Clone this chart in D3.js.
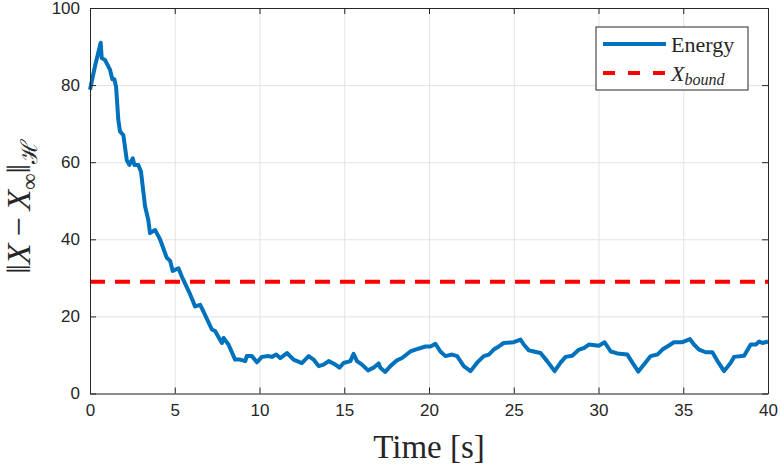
<!DOCTYPE html>
<html>
<head>
<meta charset="utf-8">
<script src="https://cdn.jsdelivr.net/npm/d3@7"></script>
<style>
  body { margin: 0; background: #fff; }
  svg { display: block; }
  .tick text { font-family: "Liberation Sans", Arial, sans-serif; font-size: 17px; fill: #262626; }
  .serif { font-family: "Liberation Serif", "DejaVu Serif", serif; fill: #262626; }
</style>
</head>
<body>
<svg width="780" height="467"></svg>
<script>
const time = [0, 0.3, 0.63, 0.69, 0.89, 1.18, 1.32, 1.44, 1.54, 1.67, 1.77, 1.97, 2.17, 2.32, 2.52, 2.62, 2.85, 3.01, 3.25, 3.44,
  3.54, 3.84, 3.94, 4.13, 4.53, 4.73, 4.88, 5.22, 5.41, 5.91, 6.2, 6.5, 6.69, 7.19, 7.38, 7.78, 7.88, 8.17, 8.56, 8.86,
  9.16, 9.25, 9.55, 9.85, 10.14, 10.53, 10.73, 10.99, 11.22, 11.62, 12.01, 12.5, 12.9, 13.19, 13.49, 13.78, 14.08, 14.47, 14.72, 14.96,
  15.36, 15.55, 15.75, 16.05, 16.4, 16.73, 17.03, 17.13, 17.42, 17.72, 18.11, 18.41, 18.9, 19.2, 19.79, 20.08, 20.38, 20.67, 20.97, 21.36,
  21.66, 22.05, 22.45, 22.84, 23.23, 23.53, 23.82, 24.12, 24.41, 25.0, 25.4, 25.59, 25.89, 26.18, 26.58, 26.97, 27.41, 27.76, 28.06, 28.45,
  28.85, 29.14, 29.43, 30.02, 30.36, 30.72, 31.11, 31.7, 32.0, 32.35, 32.68, 33.08, 33.47, 33.77, 34.06, 34.45, 34.95, 35.4, 35.63, 35.93,
  36.33, 36.72, 37.02, 37.41, 37.8, 38.0, 38.59, 38.98, 39.28, 39.48, 39.67, 40];
const energy = [78.8, 85, 91, 87, 86.5, 84, 81.5, 81.5, 79.5, 71, 68, 67, 60.5, 59.3, 61, 59.3, 59.3, 57.5, 48.5, 45,
  41.6, 42.4, 41.6, 40, 35.2, 34.4, 31.8, 32.5, 30.4, 25.7, 22.6, 23, 21.3, 16.6, 16.2, 13.1, 14.4, 12.7, 8.8, 8.8,
  8.4, 9.7, 9.7, 8.1, 9.5, 9.7, 9.5, 10.1, 9.2, 10.5, 8.8, 7.9, 9.7, 8.8, 7.1, 7.5, 8.4, 7.5, 6.7, 7.9,
  8.4, 10.3, 8.4, 7.5, 6.0, 6.7, 7.8, 6.7, 5.6, 7.1, 8.6, 9.2, 10.9, 11.4, 12.2, 12.2, 12.9, 10.9, 9.7, 10.1,
  9.7, 7.1, 5.8, 8.0, 9.7, 10.1, 11.4, 12.2, 13.1, 13.3, 14.0, 12.7, 11.2, 10.9, 10.5, 8.4, 5.8, 8.0, 9.5, 9.8,
  11.4, 11.8, 12.7, 12.4, 13.3, 10.9, 10.4, 10.1, 8.0, 5.7, 7.5, 9.7, 10.1, 11.4, 12.2, 13.3, 13.3, 14.1, 12.7, 11.4,
  10.7, 10.7, 8.4, 5.8, 8.0, 9.5, 9.8, 12.7, 12.7, 13.5, 13.1, 13.5];
const xBound = 29;
const xTicks = [0, 5, 10, 15, 20, 25, 30, 35, 40];
const yTicks = [0, 20, 40, 60, 80, 100];

const svg = d3.select("svg");
const margin = { left: 90, right: 12, top: 8, bottom: 73.5 };
const width = 780 - margin.left - margin.right;
const height = 467 - margin.top - margin.bottom;
const g = svg.append("g").attr("transform", `translate(${margin.left},${margin.top})`);

const x = d3.scaleLinear().domain([0, 40]).range([0, width]);
const y = d3.scaleLinear().domain([0, 100]).range([height, 0]);

// grid
g.append("g").attr("transform", `translate(0,${height})`)
  .call(d3.axisBottom(x).tickValues(xTicks).tickSize(-height).tickFormat(""))
  .call(a => a.select(".domain").remove())
  .selectAll("line").attr("stroke", "#e3e3e3");
g.append("g")
  .call(d3.axisLeft(y).tickValues(yTicks).tickSize(-width).tickFormat(""))
  .call(a => a.select(".domain").remove())
  .selectAll("line").attr("stroke", "#e3e3e3");

// bound line
g.append("line")
  .attr("x1", x(0)).attr("x2", x(40))
  .attr("y1", y(xBound)).attr("y2", y(xBound))
  .attr("stroke", "#ff0000").attr("stroke-width", 4)
  .attr("stroke-dasharray", "15,10");

// energy line
const line = d3.line().x((d, i) => x(time[i])).y(d => y(d));
g.append("path").datum(energy)
  .attr("d", line)
  .attr("fill", "none")
  .attr("stroke", "#0072bd")
  .attr("stroke-width", 4)
  .attr("stroke-linejoin", "round");

// axes with inward ticks
function styleAxis(a) {
  a.select(".domain").attr("stroke", "#262626");
  a.selectAll(".tick line").attr("stroke", "#262626");
}
g.append("g").attr("transform", `translate(0,${height})`)
  .call(d3.axisBottom(x).tickValues(xTicks).tickSizeInner(-6).tickSizeOuter(0).tickPadding(10))
  .call(styleAxis);
g.append("g")
  .call(d3.axisLeft(y).tickValues(yTicks).tickSizeInner(-6).tickSizeOuter(0).tickPadding(10))
  .call(styleAxis);
g.append("g")
  .call(d3.axisTop(x).tickValues(xTicks).tickSizeInner(-6).tickSizeOuter(0).tickFormat(""))
  .call(styleAxis);
g.append("g").attr("transform", `translate(${width},0)`)
  .call(d3.axisRight(y).tickValues(yTicks).tickSizeInner(-6).tickSizeOuter(0).tickFormat(""))
  .call(styleAxis);

// axis labels
svg.append("text").attr("class", "serif")
  .attr("x", margin.left + width / 2).attr("y", 458)
  .attr("text-anchor", "middle").attr("font-size", 33)
  .text("Time [s]");

const yl = svg.append("text").attr("class", "serif")
  .attr("transform", `translate(30,${margin.top + height / 2 + 6}) rotate(-90)`)
  .attr("text-anchor", "middle").attr("font-size", 34);
yl.append("tspan").text("\u2016");
yl.append("tspan").attr("font-style", "italic").text("X");
yl.append("tspan").text("\u2009\u2212\u2009");
yl.append("tspan").attr("font-style", "italic").text("X");
yl.append("tspan").attr("font-size", 23).attr("dy", 7).text("\u221e");
yl.append("tspan").attr("dy", -7).text("\u2016");
yl.append("tspan").attr("font-size", 23).attr("dy", 7).text("\u210b");

// legend
const lg = svg.append("g").attr("transform", "translate(596,27)");
lg.append("rect").attr("width", 152).attr("height", 63)
  .attr("fill", "#fff").attr("stroke", "#262626").attr("stroke-width", 1);
lg.append("line").attr("x1", 7).attr("x2", 70).attr("y1", 17).attr("y2", 17)
  .attr("stroke", "#0072bd").attr("stroke-width", 4);
lg.append("line").attr("x1", 7).attr("x2", 70).attr("y1", 46).attr("y2", 46)
  .attr("stroke", "#ff0000").attr("stroke-width", 4).attr("stroke-dasharray", "12,13");
lg.append("text").attr("class", "serif").attr("x", 75).attr("y", 25)
  .attr("font-size", 22).text("Energy");
const lb = lg.append("text").attr("class", "serif").attr("x", 75).attr("y", 54).attr("font-size", 22);
lb.append("tspan").attr("font-style", "italic").text("X");
lb.append("tspan").attr("font-style", "italic").attr("font-size", 16).attr("dy", 4).text("bound");
</script>
</body>
</html>
